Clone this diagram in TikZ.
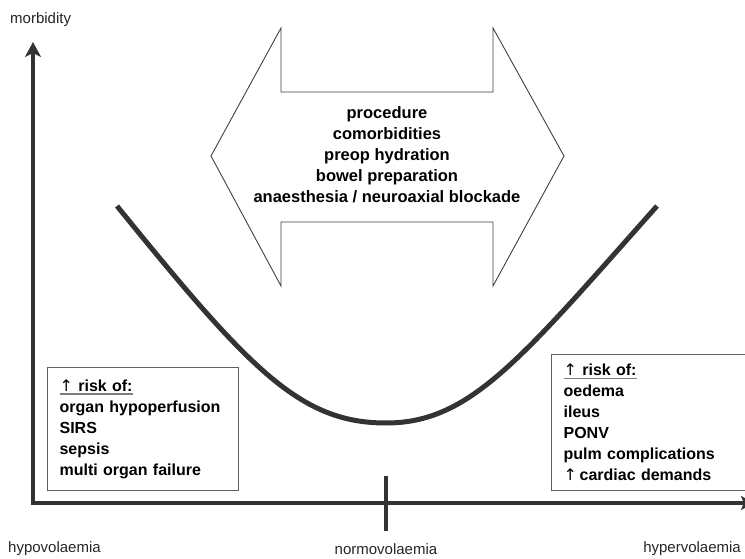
\documentclass[tikz,border=0pt]{standalone}
\usepackage{fontspec}
\setmainfont{Liberation Sans}
\newfontfamily\arrowfont{DejaVu Sans}
\usetikzlibrary{arrows.meta, positioning}
\definecolor{axisgray}{RGB}{50,52,52}
\definecolor{boxgray}{RGB}{95,95,95}
\definecolor{ulgray}{RGB}{125,125,125}
\newcommand{\riskup}{{\arrowfont\mdseries ↑}}
\newcommand{\riskhead}{\setbox0\hbox{\riskup\ risk of:}\rlap{\color{ulgray}\rule[-3.5pt]{\wd0}{1.3pt}}\box0}
\tikzstyle{axisline}    = [draw=axisgray, line width=4.5pt]
\tikzstyle{curveline}   = [draw=axisgray, line width=5pt]
\tikzstyle{factorarrow} = [draw=black!75, line width=0.9pt, fill=white]
\tikzstyle{factortext}  = [align=center, font=\fontsize{16.5}{21}\selectfont\bfseries]
\tikzstyle{riskbox}     = [draw=boxgray, line width=1.2pt, anchor=north west, inner xsep=12pt,
                           align=left, font=\fontsize{16}{21}\selectfont\bfseries]
\tikzstyle{axlabel}     = [font=\fontsize{15}{18}\selectfont, text=black!85, inner sep=0pt]
\tikzstyle{tip}         = [{Stealth[length=15pt, width=16pt, inset=4pt]}]

\begin{document}
\begin{tikzpicture}[x=1pt, y=-1pt]
    \useasboundingbox (0,0) rectangle (745,559);

    \coordinate (ytop)   at (33,42);
    \coordinate (origin) at (33,503);
    \coordinate (xend)   at (754,503);
    \coordinate (normT)  at (386,476);
    \coordinate (normB)  at (386,531);

    \draw[axisline, {Stealth[length=15pt, width=16pt, inset=4pt]}-{Stealth[length=13pt, width=14pt, inset=3pt]}]
        (ytop) -- (origin) -- (xend);
    \draw[axisline, line width=4pt] (normT) -- (normB);

    \draw[factorarrow] (211,156) -- (281,28) -- (281,92) -- (493,92) -- (493,28) -- (564,156)
        -- (493,286) -- (493,222) -- (281,222) -- (281,286) -- cycle;
    \node[factortext] (factors) at (387,155)
        {procedure\\comorbidities\\preop hydration\\bowel preparation\\anaesthesia / neuroaxial blockade};

    \draw[curveline] (117,206) .. controls (250,370) and (300,423) .. (386,423)
        .. controls (470,423) and (520,360) .. (657,206);

    \node[riskbox, text width=167pt, minimum height=123pt] (hypo) at (47,367)
        {\riskhead\\organ hypoperfusion\\SIRS\\sepsis\\multi organ failure};
    \node[riskbox, text width=175pt, minimum height=136pt] (hyper) at (551,354)
        {\riskhead\\oedema\\ileus\\PONV\\pulm complications\\\riskup\,cardiac demands};

    \node[axlabel, anchor=west] (morb) at (10,20) {morbidity};
    \node[axlabel, anchor=west] (hypolab) at (8,549) {hypovolaemia};
    \node[axlabel] (normolab) at (386,549) {normovolaemia};
    \node[axlabel, anchor=east] (hyperlab) at (741,549) {hypervolaemia};
  \end{tikzpicture}
\end{document}
